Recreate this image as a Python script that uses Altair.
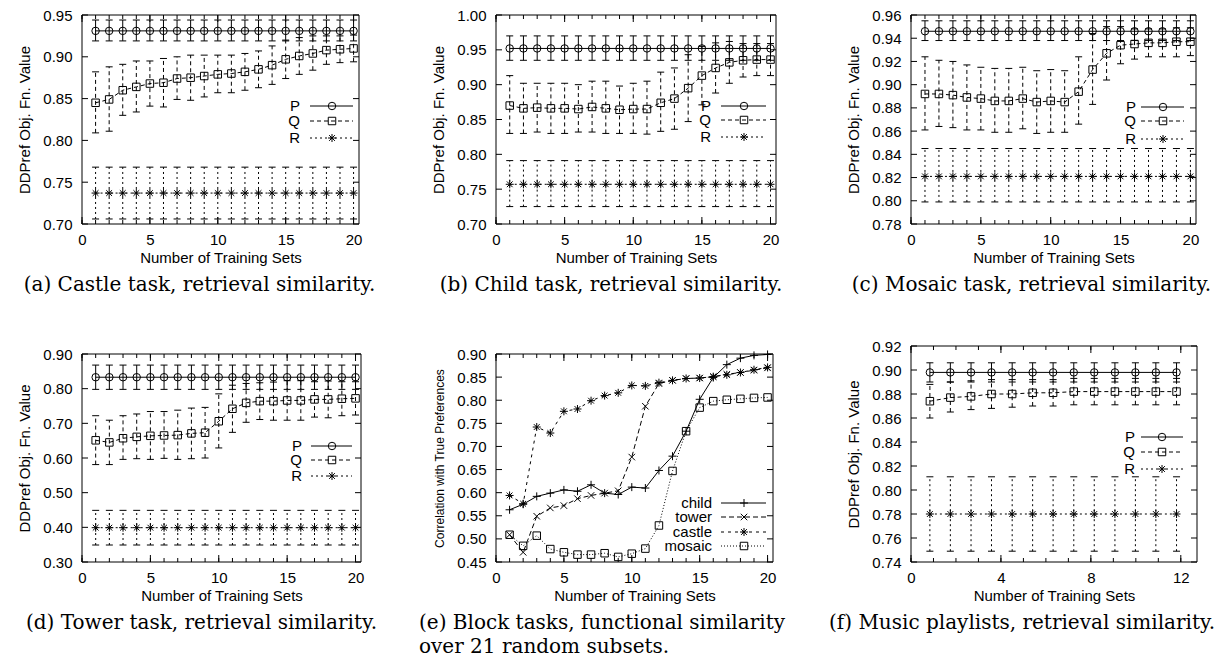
import altair as alt
import pandas as pd

X20 = [1, 2, 3, 4, 5, 6, 7, 8, 9, 10, 11, 12, 13, 14, 15, 16, 17, 18, 19, 20]
# (f) point positions as read against the 0/4/8/12 tick labels
XF = [0.84, 1.75, 2.67, 3.58, 4.50, 5.41, 6.32, 7.24, 8.15, 9.07, 9.98, 10.89, 11.81]

# ---------------- (a) Castle task ----------------
a_P    = [0.931, 0.931, 0.931, 0.931, 0.931, 0.931, 0.931, 0.931, 0.931, 0.931, 0.931, 0.931, 0.931, 0.931, 0.931, 0.931, 0.931, 0.931, 0.931, 0.931]
a_P_lo = [0.919, 0.919, 0.919, 0.919, 0.919, 0.919, 0.919, 0.919, 0.919, 0.919, 0.919, 0.919, 0.919, 0.919, 0.919, 0.919, 0.919, 0.919, 0.919, 0.919]
a_P_hi = [0.944, 0.944, 0.944, 0.944, 0.944, 0.944, 0.944, 0.944, 0.944, 0.944, 0.944, 0.944, 0.944, 0.944, 0.944, 0.944, 0.944, 0.944, 0.944, 0.944]
a_Q    = [0.845, 0.849, 0.860, 0.864, 0.868, 0.869, 0.874, 0.875, 0.877, 0.879, 0.880, 0.882, 0.885, 0.890, 0.897, 0.901, 0.904, 0.908, 0.909, 0.910]
a_Q_lo = [0.809, 0.811, 0.830, 0.834, 0.841, 0.840, 0.849, 0.848, 0.852, 0.857, 0.857, 0.860, 0.863, 0.867, 0.874, 0.879, 0.884, 0.891, 0.893, 0.894]
a_Q_hi = [0.882, 0.888, 0.891, 0.895, 0.895, 0.898, 0.900, 0.902, 0.902, 0.902, 0.902, 0.904, 0.907, 0.913, 0.920, 0.923, 0.925, 0.925, 0.925, 0.926]
a_R    = [0.737, 0.737, 0.737, 0.737, 0.737, 0.737, 0.737, 0.737, 0.737, 0.737, 0.737, 0.737, 0.737, 0.737, 0.737, 0.737, 0.737, 0.737, 0.737, 0.737]
a_R_lo = [0.706, 0.706, 0.706, 0.706, 0.706, 0.706, 0.706, 0.706, 0.706, 0.706, 0.706, 0.706, 0.706, 0.706, 0.706, 0.706, 0.706, 0.706, 0.706, 0.706]
a_R_hi = [0.768, 0.768, 0.768, 0.768, 0.768, 0.768, 0.768, 0.768, 0.768, 0.768, 0.768, 0.768, 0.768, 0.768, 0.768, 0.768, 0.768, 0.768, 0.768, 0.768]

# ---------------- (b) Child task ----------------
b_P    = [0.952, 0.952, 0.952, 0.952, 0.952, 0.952, 0.952, 0.952, 0.952, 0.952, 0.952, 0.952, 0.952, 0.952, 0.952, 0.952, 0.952, 0.952, 0.952, 0.952]
b_P_lo = [0.935, 0.935, 0.935, 0.935, 0.935, 0.935, 0.935, 0.935, 0.935, 0.935, 0.935, 0.935, 0.935, 0.935, 0.935, 0.935, 0.935, 0.935, 0.935, 0.935]
b_P_hi = [0.970, 0.970, 0.970, 0.970, 0.970, 0.970, 0.970, 0.970, 0.970, 0.970, 0.970, 0.970, 0.970, 0.970, 0.970, 0.970, 0.970, 0.970, 0.970, 0.970]
b_Q    = [0.870, 0.866, 0.867, 0.866, 0.866, 0.865, 0.868, 0.866, 0.864, 0.865, 0.865, 0.874, 0.880, 0.895, 0.913, 0.924, 0.932, 0.935, 0.936, 0.936]
b_Q_lo = [0.830, 0.830, 0.832, 0.830, 0.830, 0.832, 0.832, 0.830, 0.830, 0.830, 0.829, 0.833, 0.836, 0.847, 0.871, 0.888, 0.902, 0.911, 0.913, 0.913]
b_Q_hi = [0.913, 0.902, 0.902, 0.902, 0.902, 0.900, 0.905, 0.905, 0.898, 0.902, 0.905, 0.918, 0.924, 0.943, 0.955, 0.960, 0.962, 0.959, 0.959, 0.959]
b_R    = [0.757, 0.757, 0.757, 0.757, 0.757, 0.757, 0.757, 0.757, 0.757, 0.757, 0.757, 0.757, 0.757, 0.757, 0.757, 0.757, 0.757, 0.757, 0.757, 0.757]
b_R_lo = [0.725, 0.725, 0.725, 0.725, 0.725, 0.725, 0.725, 0.725, 0.725, 0.725, 0.725, 0.725, 0.725, 0.725, 0.725, 0.725, 0.725, 0.725, 0.725, 0.725]
b_R_hi = [0.791, 0.791, 0.791, 0.791, 0.791, 0.791, 0.791, 0.791, 0.791, 0.791, 0.791, 0.791, 0.791, 0.791, 0.791, 0.791, 0.791, 0.791, 0.791, 0.791]

# ---------------- (c) Mosaic task ----------------
c_P    = [0.946, 0.946, 0.946, 0.946, 0.946, 0.946, 0.946, 0.946, 0.946, 0.946, 0.946, 0.946, 0.946, 0.946, 0.946, 0.946, 0.946, 0.946, 0.946, 0.946]
c_P_lo = [0.938, 0.938, 0.938, 0.938, 0.938, 0.938, 0.938, 0.938, 0.938, 0.938, 0.938, 0.938, 0.938, 0.938, 0.938, 0.938, 0.938, 0.938, 0.938, 0.938]
c_P_hi = [0.955, 0.955, 0.955, 0.955, 0.955, 0.955, 0.955, 0.955, 0.955, 0.955, 0.955, 0.955, 0.955, 0.955, 0.955, 0.955, 0.955, 0.955, 0.955, 0.955]
c_Q    = [0.892, 0.892, 0.891, 0.889, 0.888, 0.886, 0.886, 0.888, 0.885, 0.886, 0.885, 0.894, 0.913, 0.927, 0.934, 0.935, 0.936, 0.936, 0.937, 0.937]
c_Q_lo = [0.861, 0.864, 0.863, 0.861, 0.861, 0.859, 0.859, 0.862, 0.858, 0.859, 0.859, 0.866, 0.883, 0.904, 0.918, 0.922, 0.924, 0.924, 0.924, 0.925]
c_Q_hi = [0.924, 0.921, 0.920, 0.917, 0.915, 0.914, 0.914, 0.915, 0.912, 0.913, 0.912, 0.924, 0.944, 0.950, 0.950, 0.948, 0.948, 0.948, 0.949, 0.949]
c_R    = [0.821, 0.821, 0.821, 0.821, 0.821, 0.821, 0.821, 0.821, 0.821, 0.821, 0.821, 0.821, 0.821, 0.821, 0.821, 0.821, 0.821, 0.821, 0.821, 0.821]
c_R_lo = [0.799, 0.799, 0.799, 0.799, 0.799, 0.799, 0.799, 0.799, 0.799, 0.799, 0.799, 0.799, 0.799, 0.799, 0.799, 0.799, 0.799, 0.799, 0.799, 0.799]
c_R_hi = [0.845, 0.845, 0.845, 0.845, 0.845, 0.845, 0.845, 0.845, 0.845, 0.845, 0.845, 0.845, 0.845, 0.845, 0.845, 0.845, 0.845, 0.845, 0.845, 0.845]

# ---------------- (d) Tower task ----------------
d_P    = [0.833, 0.833, 0.833, 0.833, 0.833, 0.833, 0.833, 0.833, 0.833, 0.833, 0.833, 0.833, 0.833, 0.833, 0.833, 0.833, 0.833, 0.833, 0.833, 0.833]
d_P_lo = [0.798, 0.798, 0.798, 0.798, 0.798, 0.798, 0.798, 0.798, 0.798, 0.798, 0.798, 0.798, 0.798, 0.798, 0.798, 0.798, 0.798, 0.798, 0.798, 0.798]
d_P_hi = [0.868, 0.868, 0.868, 0.868, 0.868, 0.868, 0.868, 0.868, 0.868, 0.868, 0.868, 0.868, 0.868, 0.868, 0.868, 0.868, 0.868, 0.868, 0.868, 0.868]
d_Q    = [0.651, 0.645, 0.657, 0.661, 0.664, 0.665, 0.666, 0.671, 0.673, 0.706, 0.742, 0.759, 0.764, 0.764, 0.766, 0.766, 0.769, 0.769, 0.771, 0.772]
d_Q_lo = [0.581, 0.581, 0.596, 0.598, 0.596, 0.599, 0.596, 0.598, 0.600, 0.629, 0.674, 0.703, 0.711, 0.709, 0.709, 0.709, 0.718, 0.716, 0.722, 0.724]
d_Q_hi = [0.722, 0.709, 0.722, 0.727, 0.734, 0.734, 0.738, 0.744, 0.746, 0.785, 0.810, 0.815, 0.817, 0.819, 0.823, 0.823, 0.820, 0.822, 0.820, 0.820]
d_R    = [0.399, 0.399, 0.399, 0.399, 0.399, 0.399, 0.399, 0.399, 0.399, 0.399, 0.399, 0.399, 0.399, 0.399, 0.399, 0.399, 0.399, 0.399, 0.399, 0.399]
d_R_lo = [0.349, 0.349, 0.349, 0.349, 0.349, 0.349, 0.349, 0.349, 0.349, 0.349, 0.349, 0.349, 0.349, 0.349, 0.349, 0.349, 0.349, 0.349, 0.349, 0.349]
d_R_hi = [0.449, 0.449, 0.449, 0.449, 0.449, 0.449, 0.449, 0.449, 0.449, 0.449, 0.449, 0.449, 0.449, 0.449, 0.449, 0.449, 0.449, 0.449, 0.449, 0.449]

# ---------------- (e) Block tasks, functional similarity ----------------
e_child  = [0.563, 0.575, 0.592, 0.599, 0.606, 0.603, 0.617, 0.599, 0.596, 0.612, 0.610, 0.648, 0.679, 0.733, 0.802, 0.849, 0.877, 0.891, 0.897, 0.899]
e_tower  = [0.509, 0.471, 0.549, 0.567, 0.572, 0.587, 0.594, 0.599, 0.604, 0.677, 0.787, 0.836, 0.843, 0.847, 0.848, 0.851, 0.856, 0.860, 0.865, 0.870]
e_castle = [0.594, 0.576, 0.742, 0.729, 0.776, 0.781, 0.799, 0.810, 0.816, 0.832, 0.831, 0.838, 0.843, 0.847, 0.848, 0.851, 0.855, 0.860, 0.866, 0.871]
e_mosaic = [0.509, 0.485, 0.507, 0.478, 0.471, 0.466, 0.466, 0.469, 0.461, 0.468, 0.479, 0.529, 0.647, 0.733, 0.784, 0.798, 0.801, 0.803, 0.805, 0.806]

# ---------------- (f) Music playlists ----------------
f_P    = [0.898, 0.898, 0.898, 0.898, 0.898, 0.898, 0.898, 0.898, 0.898, 0.898, 0.898, 0.898, 0.898]
f_P_lo = [0.890, 0.890, 0.890, 0.890, 0.890, 0.890, 0.890, 0.890, 0.890, 0.890, 0.890, 0.890, 0.890]
f_P_hi = [0.906, 0.906, 0.906, 0.906, 0.906, 0.906, 0.906, 0.906, 0.906, 0.906, 0.906, 0.906, 0.906]
f_Q    = [0.874, 0.877, 0.878, 0.880, 0.880, 0.881, 0.881, 0.882, 0.882, 0.882, 0.882, 0.882, 0.882]
f_Q_lo = [0.860, 0.865, 0.867, 0.868, 0.869, 0.870, 0.870, 0.871, 0.871, 0.871, 0.871, 0.871, 0.871]
f_Q_hi = [0.888, 0.890, 0.891, 0.892, 0.892, 0.892, 0.892, 0.893, 0.893, 0.893, 0.893, 0.893, 0.893]
f_R    = [0.780, 0.780, 0.780, 0.780, 0.780, 0.780, 0.780, 0.780, 0.780, 0.780, 0.780, 0.780, 0.780]
f_R_lo = [0.749, 0.749, 0.749, 0.749, 0.749, 0.749, 0.749, 0.749, 0.749, 0.749, 0.749, 0.749, 0.749]
f_R_hi = [0.811, 0.811, 0.811, 0.811, 0.811, 0.811, 0.811, 0.811, 0.811, 0.811, 0.811, 0.811, 0.811]

# ---------------- axis ticks ----------------
XMAJ20 = [0, 5, 10, 15, 20]
XMIN20 = [0, 1, 2, 3, 4, 5, 6, 7, 8, 9, 10, 11, 12, 13, 14, 15, 16, 17, 18, 19, 20]
XMAJ12 = [0, 4, 8, 12]
XMIN12 = [0, 1, 2, 3, 4, 5, 6, 7, 8, 9, 10, 11, 12]
YT_a = [0.70, 0.75, 0.80, 0.85, 0.90, 0.95]
YT_b = [0.70, 0.75, 0.80, 0.85, 0.90, 0.95, 1.00]
YT_c = [0.78, 0.80, 0.82, 0.84, 0.86, 0.88, 0.90, 0.92, 0.94, 0.96]
YT_d = [0.30, 0.40, 0.50, 0.60, 0.70, 0.80, 0.90]
YT_e = [0.45, 0.50, 0.55, 0.60, 0.65, 0.70, 0.75, 0.80, 0.85, 0.90]
YT_f = [0.74, 0.76, 0.78, 0.80, 0.82, 0.84, 0.86, 0.88, 0.90, 0.92]

SANS = "Liberation Sans"
SERIF = "DejaVu Serif"

CIRCLE = "circle"
SQUARE = "square"
STAR = "M-1,0L1,0M0,-1L0,1M-0.72,-0.72L0.72,0.72M-0.72,0.72L0.72,-0.72"
PLUS = "M-1,0L1,0M0,-1L0,1"
CROSS = "M-1,-1L1,1M-1,1L1,-1"
CAP = "M-1,0L1,0"

DASH_Q = [4, 3]
DASH_R = [2, 3]

STY_P = dict(dash=None, shape=CIRCLE, size=56)
STY_Q = dict(dash=DASH_Q, shape=SQUARE, size=56)
STY_R = dict(dash=DASH_R, shape=STAR, size=64)


def series(label, x, y, sty, lo=None, hi=None):
    s = dict(label=label, x=x, y=y, **sty)
    if lo is not None:
        s["lo"] = lo
        s["hi"] = hi
    return s


def dash_kw(d):
    return {} if d is None else {"strokeDash": d}


def panel(W, H, top, xdom, xmaj, xmin, ydom, yvals, ytitle, ytsize, sers,
          leg_text_x, leg_x1, leg_x2, leg_mx, leg_ys, caption, cap_dx, cap_anchor="middle"):
    xs = alt.Scale(domain=xdom, nice=False, zero=False)
    ys = alt.Scale(domain=ydom, nice=False, zero=False, range=[H, top])
    xax = alt.Axis(values=xmaj, format="d", title="Number of Training Sets", domain=False,
                   ticks=False, grid=False, labelFlush=False, labelOverlap=False,
                   labelPadding=8, titlePadding=3)
    yax = alt.Axis(values=yvals, format=".2f", title=ytitle, titleFontSize=ytsize, domain=False,
                   ticks=False, grid=False, labelFlush=False, labelOverlap=False,
                   labelPadding=10, titlePadding=10)
    one = pd.DataFrame({"k": [0]})
    L = []
    # frame
    L.append(alt.Chart(one).mark_rect(filled=False, stroke="black", strokeWidth=1).encode(
        x=alt.value(0), x2=alt.value(W), y=alt.value(top), y2=alt.value(H)))
    # y ticks (inward, both sides)
    ydf = pd.DataFrame({"v": yvals})
    Yv = alt.Y("v:Q", scale=ys, axis=yax)
    L.append(alt.Chart(ydf).mark_rule(color="black", strokeWidth=1).encode(
        y=Yv, x=alt.value(0), x2=alt.value(6)))
    L.append(alt.Chart(ydf).mark_rule(color="black", strokeWidth=1).encode(
        y=Yv, x=alt.value(W - 6), x2=alt.value(W)))
    # x ticks
    Xv = alt.X("v:Q", scale=xs, axis=xax)
    majdf = pd.DataFrame({"v": xmaj})
    mindf = pd.DataFrame({"v": xmin})
    L.append(alt.Chart(majdf).mark_rule(color="black", strokeWidth=1).encode(
        x=Xv, y=alt.value(H - 7), y2=alt.value(H)))
    L.append(alt.Chart(majdf).mark_rule(color="black", strokeWidth=1).encode(
        x=Xv, y=alt.value(top), y2=alt.value(top + 7)))
    L.append(alt.Chart(mindf).mark_rule(color="black", strokeWidth=1).encode(
        x=Xv, y=alt.value(H - 4), y2=alt.value(H)))
    L.append(alt.Chart(mindf).mark_rule(color="black", strokeWidth=1).encode(
        x=Xv, y=alt.value(top), y2=alt.value(top + 4)))

    for i, s in enumerate(sers):
        df = pd.DataFrame({"x": s["x"], "y": s["y"]})
        X = alt.X("x:Q", scale=xs, axis=xax)
        Y = alt.Y("y:Q", scale=ys, axis=yax)
        if "lo" in s:
            df["lo"] = s["lo"]
            df["hi"] = s["hi"]
            L.append(alt.Chart(df).mark_rule(color="black", strokeWidth=1, **dash_kw(s["dash"])).encode(
                x=X, y=alt.Y("lo:Q", scale=ys, axis=yax), y2="hi:Q"))
            for fld in ("lo", "hi"):
                L.append(alt.Chart(df).mark_point(shape=CAP, size=49, filled=False, color="black",
                                                  strokeWidth=1, opacity=1).encode(
                    x=X, y=alt.Y(fld + ":Q", scale=ys, axis=yax)))
        L.append(alt.Chart(df).mark_line(color="black", strokeWidth=1, **dash_kw(s["dash"])).encode(x=X, y=Y))
        L.append(alt.Chart(df).mark_point(shape=s["shape"], size=s["size"], filled=False, color="black",
                                          strokeWidth=1, opacity=1).encode(x=X, y=Y))
        # legend entry
        ly = leg_ys[i]
        L.append(alt.Chart(one).mark_text(align="right", baseline="middle", font=SANS, fontSize=15,
                                          color="black").encode(
            x=alt.value(leg_text_x), y=alt.value(ly), text=alt.value(s["label"])))
        L.append(alt.Chart(one).mark_rule(color="black", strokeWidth=1, **dash_kw(s["dash"])).encode(
            x=alt.value(leg_x1), x2=alt.value(leg_x2), y=alt.value(ly)))
        L.append(alt.Chart(one).mark_point(shape=s["shape"], size=s["size"], filled=False, color="black",
                                           strokeWidth=1, opacity=1).encode(
            x=alt.value(leg_mx), y=alt.value(ly)))

    title = alt.TitleParams(text=caption, orient="bottom", anchor=cap_anchor, frame="group",
                            font=SERIF, fontSize=20, fontWeight="normal", color="black",
                            dx=cap_dx, offset=10, lineHeight=24, baseline="top")
    return alt.layer(*L).properties(width=W, height=H, title=title)


HROW = 216
XD20 = [0, 20.4]
XDF = [0, 12.72]
YTITLE = "DDPref Obj. Fn. Value"

pa = panel(277, 209, 0, XD20, XMAJ20, XMIN20, [0.70, 0.95], YT_a, YTITLE, 15,
           [series("P", X20, a_P, STY_P, a_P_lo, a_P_hi),
            series("Q", X20, a_Q, STY_Q, a_Q_lo, a_Q_hi),
            series("R", X20, a_R, STY_R, a_R_lo, a_R_hi)],
           218, 228, 271, 250, [91, 106, 123],
           "(a) Castle task, retrieval similarity.", -21)

pb = panel(280, 209, 0, XD20, XMAJ20, XMIN20, [0.70, 1.00], YT_b, YTITLE, 15,
           [series("P", X20, b_P, STY_P, b_P_lo, b_P_hi),
            series("Q", X20, b_Q, STY_Q, b_Q_lo, b_Q_hi),
            series("R", X20, b_R, STY_R, b_R_lo, b_R_hi)],
           215, 225, 270, 248, [91, 105, 122],
           "(b) Child task, retrieval similarity.", -25)

pc = panel(285, 209, 0, XD20, XMAJ20, XMIN20, [0.78, 0.96], YT_c, YTITLE, 15,
           [series("P", X20, c_P, STY_P, c_P_lo, c_P_hi),
            series("Q", X20, c_Q, STY_Q, c_Q_lo, c_Q_hi),
            series("R", X20, c_R, STY_R, c_R_lo, c_R_hi)],
           225, 230, 273, 252, [92, 106, 124],
           "(c) Mosaic task, retrieval similarity.", -22)

pd_ = panel(279, HROW, 8, XD20, XMAJ20, XMIN20, [0.30, 0.90], YT_d, YTITLE, 15,
            [series("P", X20, d_P, STY_P, d_P_lo, d_P_hi),
             series("Q", X20, d_Q, STY_Q, d_Q_lo, d_Q_hi),
             series("R", X20, d_R, STY_R, d_R_lo, d_R_hi)],
            220, 229, 270, 250, [100, 114, 130],
            "(d) Tower task, retrieval similarity.", -20)

pe = panel(277, HROW, 8, XD20, XMAJ20, XMIN20, [0.45, 0.90], YT_e,
           "Correlation with True Preferences", 12,
           [series("child", X20, e_child, dict(dash=None, shape=PLUS, size=64)),
            series("tower", X20, e_tower, dict(dash=[5, 3], shape=CROSS, size=42)),
            series("castle", X20, e_castle, dict(dash=[3, 4], shape=STAR, size=64)),
            series("mosaic", X20, e_mosaic, dict(dash=[1, 2], shape=SQUARE, size=56))],
           216, 225, 270, 248, [157, 171, 186, 200],
           ["(e) Block tasks, functional similarity", "over 21 random subsets."], -77, "start")

pf = panel(286, HROW, 0, XDF, XMAJ12, XMIN12, [0.74, 0.92], YT_f, YTITLE, 15,
           [series("P", XF, f_P, STY_P, f_P_lo, f_P_hi),
            series("Q", XF, f_Q, STY_Q, f_Q_lo, f_Q_hi),
            series("R", XF, f_R, STY_R, f_R_lo, f_R_hi)],
           224, 230, 272, 251, [91, 106, 123],
           "(f) Music playlists, retrieval similarity.", -32)

chart = alt.concat(pa, pb, pc, pd_, pe, pf, columns=3,
                   spacing={"row": 122, "column": 135}, bounds="flush").properties(
    padding={"left": 9, "top": 0, "right": 0, "bottom": 0},
    background="white",
).configure_view(stroke=None).configure_axis(
    labelFont=SANS, labelFontSize=15, labelColor="black",
    titleFont=SANS, titleFontSize=15, titleFontWeight="normal", titleColor="black",
)

chart.save("out.html", embed_options={"renderer": "svg", "actions": False})
